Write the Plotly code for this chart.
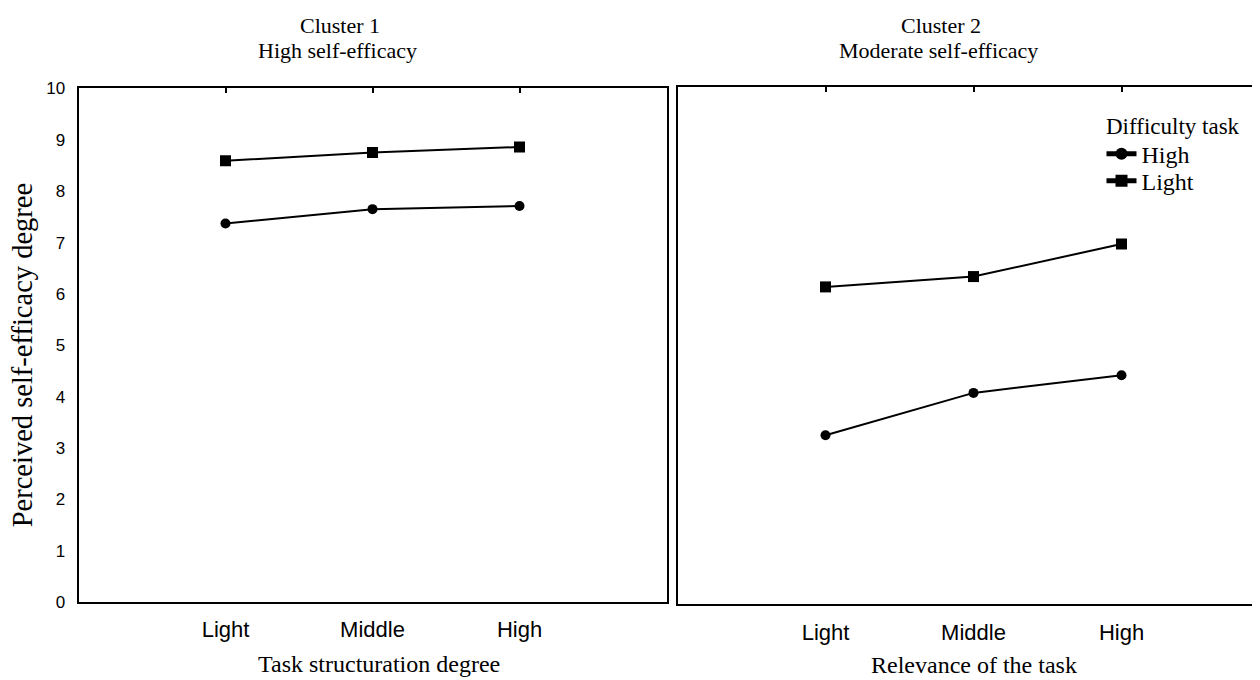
import plotly.graph_objects as go

# ---- data ----
categories = ["Light", "Middle", "High"]
cluster1_high = [7.37, 7.65, 7.71]     # difficulty task: High (circles)
cluster1_light = [8.59, 8.75, 8.86]    # difficulty task: Light (squares)
cluster2_high = [3.27, 4.09, 4.43]
cluster2_light = [6.14, 6.34, 6.97]
y_ticks = list(range(0, 11))
panel_titles = [("Cluster 1", "High self-efficacy"), ("Cluster 2", "Moderate self-efficacy")]
x_titles = ["Task structuration degree", "Relevance of the task"]
y_title = "Perceived self-efficacy degree"
legend_title = "Difficulty task"
series_names = ["High", "Light"]

W, H = 1260, 680
SERIF = "Liberation Serif, Times New Roman, serif"
SANS = "Liberation Sans, Arial, sans-serif"

# page offset compensation (observed in the rendered page)
OX = 7.5
OY, SY = 16.5, 0.974


def px(x):
    return (x - OX) / W


def py(y):
    return 1 - ((y - OY) / SY) / H


fig = go.Figure()

line_style = dict(color="black", width=2)
for i, (hi, li) in enumerate([(cluster1_high, cluster1_light), (cluster2_high, cluster2_light)]):
    xa = "x" if i == 0 else "x2"
    ya = "y" if i == 0 else "y2"
    fig.add_trace(go.Scatter(
        x=categories, y=hi, mode="lines+markers", name=series_names[0],
        line=line_style, marker=dict(symbol="circle", size=10, color="black"),
        xaxis=xa, yaxis=ya, showlegend=(i == 0), legend="legend"))
    fig.add_trace(go.Scatter(
        x=categories, y=li, mode="lines+markers", name=series_names[1],
        line=line_style, marker=dict(symbol="square", size=11, color="black"),
        xaxis=xa, yaxis=ya, showlegend=(i == 0), legend="legend2"))

# invisible helpers for top tick axes
fig.add_trace(go.Scatter(x=[None], y=[None], xaxis="x3", yaxis="y", showlegend=False, hoverinfo="skip"))
fig.add_trace(go.Scatter(x=[None], y=[None], xaxis="x4", yaxis="y2", showlegend=False, hoverinfo="skip"))

left_dom = [px(78), px(666)]
right_dom = [px(677), 1.0]
right_max = -1 + (W + OX - 677) / 148.0

axis_common = dict(showgrid=False, zeroline=False, showline=True, linecolor="black", linewidth=2)

leg_common = dict(xanchor="left", yanchor="middle", bgcolor="rgba(0,0,0,0)",
                  font=dict(family=SERIF, size=24, color="black"), itemsizing="constant")

fig.update_layout(
    width=W, height=H,
    margin=dict(l=0, r=0, t=0, b=0),
    paper_bgcolor="white", plot_bgcolor="white",
    xaxis=dict(domain=left_dom, anchor="y", type="category", range=[-1, 3], mirror=True,
               ticks="outside", ticklen=6, tickcolor="rgba(0,0,0,0)",
               tickfont=dict(family=SANS, size=22, color="black"), **axis_common),
    yaxis=dict(domain=[py(603), py(88)], anchor="x", range=[0, 10], tickvals=y_ticks, mirror=True,
               ticks="outside", ticklen=8, tickcolor="rgba(0,0,0,0)",
               tickfont=dict(family=SANS, size=17, color="black"), **axis_common),
    xaxis2=dict(domain=right_dom, anchor="y2", type="category", range=[-1, right_max], mirror=True,
                ticks="outside", ticklen=7, tickcolor="rgba(0,0,0,0)",
                tickfont=dict(family=SANS, size=22, color="black"), **axis_common),
    yaxis2=dict(domain=[py(605), py(87)], anchor="x2", range=[0, 10], mirror=False,
                showticklabels=False, ticks="", **axis_common),
    xaxis3=dict(overlaying="x", anchor="y", side="top", range=[-1, 3], tickvals=[0, 1, 2],
                ticks="inside", ticklen=5, tickwidth=2, tickcolor="black", showticklabels=False,
                showgrid=False, zeroline=False, showline=False),
    xaxis4=dict(overlaying="x2", anchor="y2", side="top", range=[-1, right_max], tickvals=[0, 1, 2],
                ticks="inside", ticklen=5, tickwidth=2, tickcolor="black", showticklabels=False,
                showgrid=False, zeroline=False, showline=False),
    showlegend=True,
    legend=dict(x=px(1101), y=py(154), **leg_common),
    legend2=dict(x=px(1101), y=py(181), **leg_common),
)

ann = []
# legend title
ann.append(dict(text=legend_title, x=px(1103), y=py(126), xref="paper", yref="paper", showarrow=False,
                xanchor="left", yanchor="middle", font=dict(family=SERIF, size=23, color="black")))
# panel titles
for (l1, l2), cx in zip(panel_titles, [339, 940]):
    ann.append(dict(text=l1, x=px(cx), y=py(25), xref="paper", yref="paper", showarrow=False,
                    xanchor="center", yanchor="middle", font=dict(family=SERIF, size=22, color="black")))
    ann.append(dict(text=l2, x=px(cx - 2), y=py(50), xref="paper", yref="paper", showarrow=False,
                    xanchor="center", yanchor="middle", font=dict(family=SERIF, size=22, color="black")))
# x-axis titles
for t, cx, cy in zip(x_titles, [378, 973], [665, 666]):
    ann.append(dict(text=t, x=px(cx), y=py(cy), xref="paper", yref="paper", showarrow=False,
                    xanchor="center", yanchor="middle", font=dict(family=SERIF, size=24, color="black")))
# y-axis title
ann.append(dict(text=y_title, x=px(22), y=py(356), xref="paper", yref="paper", showarrow=False,
                textangle=-90, xanchor="center", yanchor="middle",
                font=dict(family=SERIF, size=28.5, color="black")))
fig.update_layout(annotations=ann)

fig.write_html("out.html")
